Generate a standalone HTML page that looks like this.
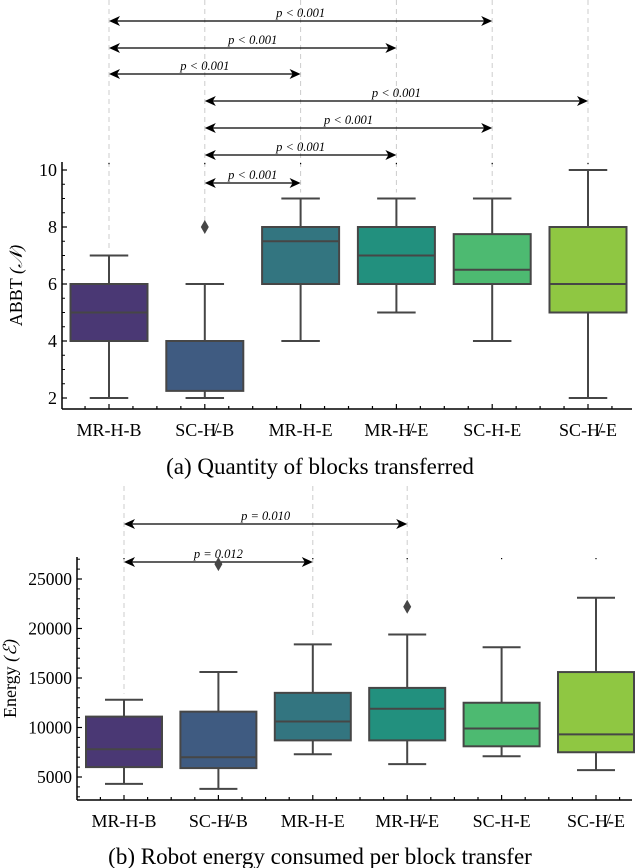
<!DOCTYPE html>
<html><head><meta charset="utf-8"><style>
body{margin:0;background:#fff;}
svg{display:block;font-family:"Liberation Serif",serif;}
</style></head><body>
<svg id="s" width="640" height="868"></svg>
<script>
const categories=["MR-H-B","SC-H\u0338-B","MR-H-E","MR-H\u0338-E","SC-H-E","SC-H\u0338-E"];
const colors=["#4a3874","#3f5b81","#337580","#22907e","#4dba71","#8fc742"];
// [low, q1, median, q3, high]
const abbtStats=[[2,4,5,6,7],[2,2.25,4,4,6],[4,6,7.5,8,9],[5,6,7,8,9],[4,6,6.5,7.75,9],[2,5,6,8,10]];
const abbtOutliers=[[],[8],[],[],[],[]];
const abbtTicks=[2,4,6,8,10];
const energyStats=[[4300,6000,7800,11100,12800],[3800,5900,7000,11600,15600],[7300,8700,10600,13500,18400],[6300,8700,11900,14000,19400],[7100,8100,9900,12500,18100],[5700,7500,9300,15600,23100]];
const energyOutliers=[[],[26500],[],[22200],[],[]];
const energyTicks=[5000,10000,15000,20000,25000];
const abbtPairs=[[0,4,"p < 0.001"],[0,3,"p < 0.001"],[0,2,"p < 0.001"],[1,5,"p < 0.001"],[1,4,"p < 0.001"],[1,3,"p < 0.001"],[1,2,"p < 0.001"]];
const energyPairs=[[0,3,"p = 0.010"],[0,2,"p = 0.012"]];

const S=document.getElementById('s');
const NS="http://www.w3.org/2000/svg";
function el(t,a,p){const e=document.createElementNS(NS,t);for(const k in a)e.setAttribute(k,a[k]);(p||S).appendChild(e);return e;}

function chart(cfg){
  const g=el('g',{});
  
  
  const x=i=>cfg.x0+i*cfg.dx;
  const y=v=>cfg.yA+(v-cfg.vA)*(cfg.yB-cfg.yA)/(cfg.vB-cfg.vA);
  const involved=new Set();cfg.pairs.forEach(p=>{involved.add(p[0]);involved.add(p[1]);});
  cfg.stats.forEach((s,i)=>{
    if(involved.has(i)){
      const top=Math.min(y(s[4]),...cfg.outliers[i].map(y))-6;
      const d=el('line',{x1:x(i),x2:x(i),y1:cfg.guideTop,y2:top,stroke:"#ccc","stroke-dasharray":"5,4","stroke-width":1},g);
      
      
    }
    el('rect',{x:x(i)-0.6,y:cfg.axTop+1,width:1.2,height:1.2,fill:"#000"},g);
  });
  cfg.pairs.forEach((p,k)=>{
    const yy=cfg.pairY[k];
    const a=el('g',{},g);
    
    
    const x1=x(p[0]),x2=x(p[1]);
    el('line',{x1:x1+2,x2:x2-2,y1:yy,y2:yy,stroke:"#000","stroke-width":1.2},a);
    el('path',{d:`M${x1} ${yy} l11 -5 l-3 5 l3 5z`,fill:"#000"},a);
    el('path',{d:`M${x2} ${yy} l-11 -5 l3 5 l-3 5z`,fill:"#000"},a);
    const t=el('text',{x:(x1+x2)/2,y:yy-4,"text-anchor":"middle","font-size":12.5,"font-style":"italic"},a);
    t.textContent=p[2];
  });
  el('line',{x1:cfg.ax,x2:cfg.ax,y1:cfg.axTop,y2:cfg.axBot,stroke:"#000","stroke-width":1.5},g);
  el('line',{x1:cfg.ax,x2:cfg.axRight,y1:cfg.axBot,y2:cfg.axBot,stroke:"#000","stroke-width":1.5},g);
  cfg.ticks.forEach(v=>{
    el('line',{x1:cfg.ax,x2:cfg.ax+5,y1:y(v),y2:y(v),stroke:"#000","stroke-width":1.2},g);
    const t=el('text',{x:cfg.ax-5,y:y(v)+6,"text-anchor":"end","font-size":cfg.tickFs},g);
    
    
    t.textContent=v;
  });
  for(let v=cfg.minorStart;y(v)>cfg.axTop;v+=cfg.minor){el('line',{x1:cfg.ax,x2:cfg.ax+3,y1:y(v),y2:y(v),stroke:"#000","stroke-width":1},g);}
  for(let i=-0.5;i<6;i+=0.25){const xx=x(i);if(xx>cfg.ax&&xx<cfg.axRight)el('line',{x1:xx,x2:xx,y1:cfg.axBot,y2:cfg.axBot-(Number.isInteger(i)?5:3),stroke:"#000","stroke-width":1.2},g);}
  cfg.stats.forEach((s,i)=>{
    const b=el('g',{},g);
    
    
    const c=x(i),w=cfg.bw,ln="#464646";
    el('line',{x1:c,x2:c,y1:y(s[0]),y2:y(s[1]),stroke:ln,"stroke-width":2},b);
    el('line',{x1:c,x2:c,y1:y(s[3]),y2:y(s[4]),stroke:ln,"stroke-width":2},b);
    el('line',{x1:c-w/4,x2:c+w/4,y1:y(s[0]),y2:y(s[0]),stroke:ln,"stroke-width":2},b);
    el('line',{x1:c-w/4,x2:c+w/4,y1:y(s[4]),y2:y(s[4]),stroke:ln,"stroke-width":2},b);
    el('rect',{x:c-w/2,y:y(s[3]),width:w,height:y(s[1])-y(s[3]),fill:colors[i],stroke:ln,"stroke-width":2},b);
    el('line',{x1:c-w/2,x2:c+w/2,y1:y(s[2]),y2:y(s[2]),stroke:ln,"stroke-width":2},b);
    cfg.outliers[i].forEach(o=>{const yy=y(o);el('path',{d:`M${c} ${yy-7} L${c+4} ${yy} L${c} ${yy+7} L${c-4} ${yy}z`,fill:ln},b);});
    const t=el('text',{x:c,y:cfg.labelY,"text-anchor":"middle","font-size":18},g);
    
    
    t.textContent=categories[i];
  });
  const yl=el('text',{x:0,y:0,"text-anchor":"middle","font-size":18,transform:`translate(${cfg.ylx},${(cfg.axTop+cfg.axBot)/2}) rotate(-90)`},g);
  
  
  yl.innerHTML=cfg.ylabel;
  const cap=el('text',{x:320,y:cfg.capY,"text-anchor":"middle","font-size":23},g);
  
  
  cap.textContent=cfg.caption;
}
chart({name:'abbt-chart',x0:109,dx:95.8,bw:77,yA:398,vA:2,yB:170,vB:10,stats:abbtStats,outliers:abbtOutliers,ticks:abbtTicks,minor:0.5,minorStart:2,tickFs:18,
  pairs:abbtPairs,pairY:[21,48,74,101,128,155,183],guideTop:0,ax:62,axRight:632,axTop:162,axBot:409,labelY:436,ylx:22,
  ylabel:'ABBT <tspan font-style="italic">(𝒩)</tspan>',caption:'(a) Quantity of blocks transferred',capY:474});
chart({name:'energy-chart',x0:124,dx:94.4,bw:76,yA:777,vA:5000,yB:579,vB:25000,stats:energyStats,outliers:energyOutliers,ticks:energyTicks,minor:1000,minorStart:3000,tickFs:17.5,
  pairs:energyPairs,pairY:[524,562],guideTop:486,ax:77,axRight:632,axTop:557,axBot:800,labelY:827,ylx:16,
  ylabel:'Energy <tspan font-style="italic">(ℰ)</tspan>',caption:'(b) Robot energy consumed per block transfer',capY:864});
</script>
</body></html>
